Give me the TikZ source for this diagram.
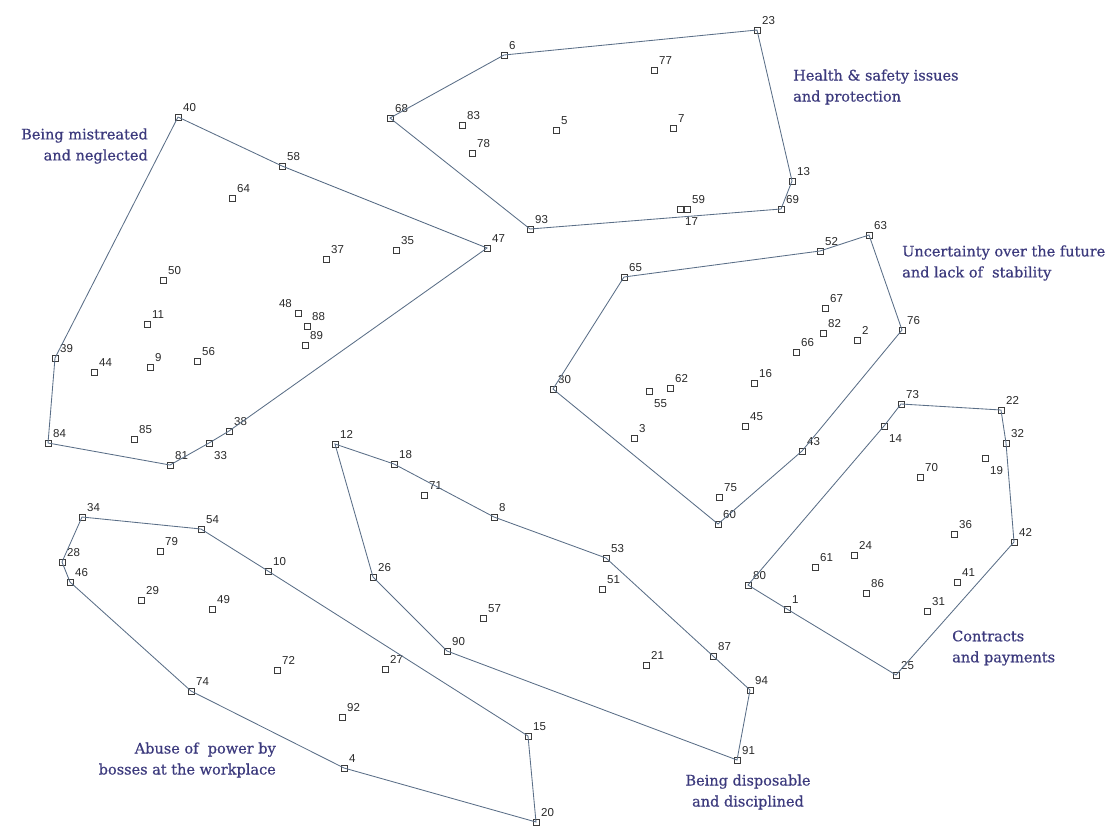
\documentclass[tikz,border=0pt]{standalone}
\usepackage{fontspec}
\setmainfont{Liberation Sans}
\newfontfamily\labfont[FakeBold=0.6]{DejaVu Serif}
\usetikzlibrary{calc}
\definecolor{hullc}{RGB}{90,110,135}
\definecolor{mkc}{RGB}{60,60,60}
\definecolor{numc}{RGB}{40,40,40}
\definecolor{titc}{RGB}{60,58,125}
\tikzset{
  mk/.style={draw=mkc,line width=0.8pt,minimum size=6.2pt,inner sep=0pt,shape=rectangle},
  numf/.style={font=\fontsize{11.5}{12}\selectfont,text=numc,inner sep=0pt},
  num/.style={numf,anchor=base west,xshift=5pt,yshift=6pt},
  numbelow/.style={numf,anchor=base west,xshift=5pt,yshift=-16pt},
  numleft/.style={numf,anchor=base east,xshift=-6pt,yshift=6pt},
  hull/.style={draw=hullc,line width=0.85pt},
  tit/.style={font=\labfont\fontsize{14.5}{21}\selectfont,text=titc,inner sep=0pt}
}
\newcommand\mkpt[4][num]{\node[mk] (p#2) at (#3,#4) {};\node[#1] (l#2) at (p#2.center) {#2};}
\begin{document}
\begin{tikzpicture}[x=1pt,y=-1pt]
\useasboundingbox (0,0) rectangle (1119,827);
% Health & safety
\mkpt{6}{504}{55}
\mkpt{23}{757}{30}
\mkpt{13}{792}{181}
\mkpt{69}{781}{209}
\mkpt{93}{530}{229}
\mkpt{68}{390}{118}
\mkpt{77}{654}{70}
\mkpt{83}{462}{125}
\mkpt{5}{556}{130}
\mkpt{7}{673}{128}
\mkpt{78}{472}{153}
\mkpt{59}{687}{209}
\mkpt[numbelow]{17}{680}{209}
\draw[hull] (p6.center) -- (p23.center) -- (p13.center) -- (p69.center) -- (p93.center) -- (p68.center) -- cycle;
% Uncertainty
\mkpt{63}{869}{235}
\mkpt{52}{820}{251}
\mkpt{65}{624}{277}
\mkpt{30}{553}{389}
\mkpt{60}{718}{524}
\mkpt{43}{802}{451}
\mkpt{76}{902}{330}
\mkpt{67}{825}{308}
\mkpt{82}{823}{333}
\mkpt{2}{857}{340}
\mkpt{66}{796}{352}
\mkpt{16}{754}{383}
\mkpt{62}{670}{388}
\mkpt[numbelow]{55}{649}{391}
\mkpt{45}{745}{426}
\mkpt{3}{634}{438}
\mkpt{75}{719}{497}
\draw[hull] (p65.center) -- (p52.center) -- (p63.center) -- (p76.center) -- (p43.center) -- (p60.center) -- (p30.center) -- cycle;
% Being mistreated
\mkpt{40}{178}{117}
\mkpt{58}{282}{166}
\mkpt{47}{487}{248}
\mkpt{38}{229}{431}
\mkpt[numbelow]{33}{209}{443}
\mkpt{81}{170}{465}
\mkpt{84}{48}{443}
\mkpt{39}{55}{358}
\mkpt{64}{232}{198}
\mkpt{50}{163}{280}
\mkpt{11}{147}{324}
\mkpt{9}{150}{367}
\mkpt{44}{94}{372}
\mkpt{56}{197}{361}
\mkpt{85}{134}{439}
\mkpt[numleft]{48}{298}{313}
\mkpt{88}{307}{326}
\mkpt{89}{305}{345}
\mkpt{37}{326}{259}
\mkpt{35}{396}{250}
\draw[hull] (p40.center) -- (p58.center) -- (p47.center) -- (p38.center) -- (p33.center) -- (p81.center) -- (p84.center) -- (p39.center) -- cycle;
% Contracts
\mkpt{73}{901}{404}
\mkpt{22}{1001}{410}
\mkpt{32}{1006}{443}
\mkpt{42}{1014}{542}
\mkpt{25}{896}{675}
\mkpt{1}{787}{609}
\mkpt{80}{748}{585}
\mkpt[numbelow]{14}{884}{426}
\mkpt{70}{920}{477}
\mkpt[numbelow]{19}{985}{458}
\mkpt{36}{954}{534}
\mkpt{24}{854}{555}
\mkpt{61}{815}{567}
\mkpt{86}{866}{593}
\mkpt{41}{957}{582}
\mkpt{31}{927}{611}
\draw[hull] (p73.center) -- (p22.center) -- (p32.center) -- (p42.center) -- (p25.center) -- (p1.center) -- (p80.center) -- (p14.center) -- cycle;
% Being disposable
\mkpt{12}{335}{444}
\mkpt{18}{394}{464}
\mkpt{71}{424}{495}
\mkpt{8}{494}{517}
\mkpt{53}{606}{558}
\mkpt{51}{602}{589}
\mkpt{26}{373}{577}
\mkpt{57}{483}{618}
\mkpt{90}{447}{651}
\mkpt{21}{646}{665}
\mkpt{87}{713}{656}
\mkpt{94}{750}{690}
\mkpt{91}{737}{760}
\draw[hull] (p12.center) -- (p18.center) -- (p8.center) -- (p53.center) -- (p87.center) -- (p94.center) -- (p91.center) -- (p90.center) -- (p26.center) -- cycle;
% Abuse of power
\mkpt{34}{82}{517}
\mkpt{54}{201}{529}
\mkpt{10}{268}{571}
\mkpt{28}{62}{562}
\mkpt{46}{70}{582}
\mkpt{74}{191}{691}
\mkpt{4}{344}{768}
\mkpt{20}{536}{822}
\mkpt{15}{528}{736}
\mkpt{27}{385}{669}
\mkpt{79}{160}{551}
\mkpt{29}{141}{600}
\mkpt{49}{212}{609}
\mkpt{72}{277}{670}
\mkpt{92}{342}{717}
\draw[hull] (p34.center) -- (p54.center) -- (p10.center) -- (p15.center) -- (p20.center) -- (p4.center) -- (p74.center) -- (p46.center) -- (p28.center) -- cycle;
% Titles
\node[tit,anchor=west,align=left] (tHealth) at (793,87) {Health \& safety issues\\and protection};
\node[tit,anchor=west,align=left] (tUnc) at (902,263) {Uncertainty over the future\\and lack of \ stability};
\node[tit,anchor=east,align=right] (tMis) at (148,146) {Being mistreated\\and neglected};
\node[tit,anchor=west,align=left] (tCon) at (952,648) {Contracts\\and payments};
\node[tit,anchor=center,align=center] (tDis) at (748,792) {Being disposable\\and disciplined};
\node[tit,anchor=east,align=right] (tAbu) at (276,760) {Abuse of \ power by\\bosses at the workplace};
\end{tikzpicture}
\end{document}
